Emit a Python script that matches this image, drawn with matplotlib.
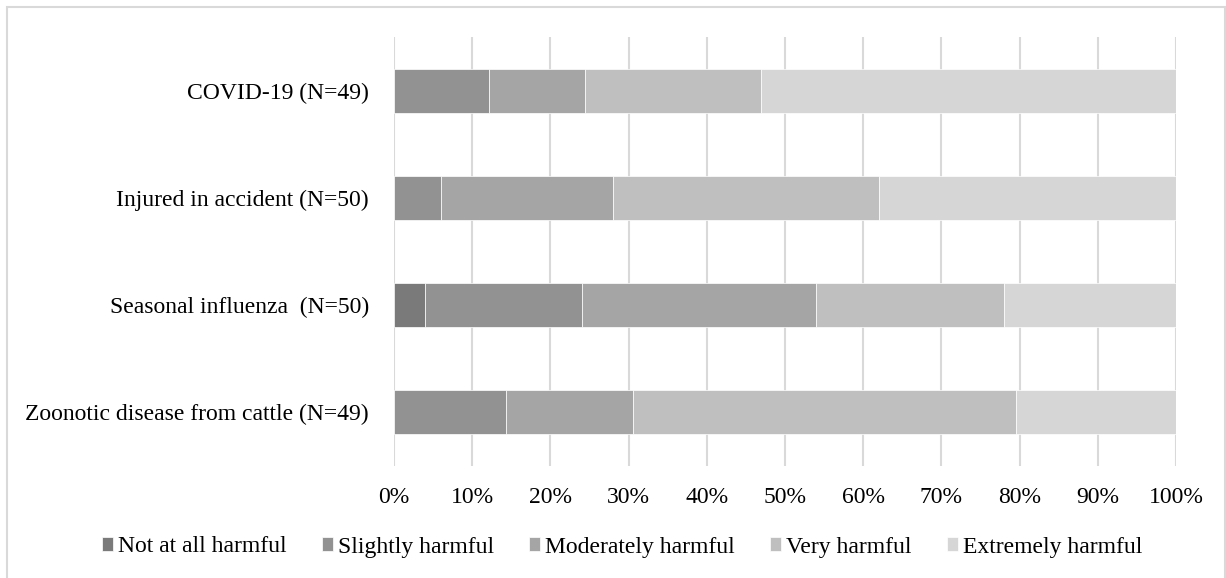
import matplotlib
matplotlib.use('Agg')
import matplotlib.pyplot as plt
from matplotlib.patches import Rectangle
import numpy as np

plt.rcParams['font.family'] = ['Liberation Serif', 'DejaVu Serif']

categories = ['Zoonotic disease from cattle (N=49)', 'Seasonal influenza  (N=50)',
              'Injured in accident (N=50)', 'COVID-19 (N=49)']
series_names = ['Not at all harmful', 'Slightly harmful', 'Moderately harmful',
                'Very harmful', 'Extremely harmful']
# percent of respondents, rows follow categories (bottom to top)
not_at_all = [0.0, 4.0, 0.0, 0.0]
slightly = [14.3, 20.0, 6.0, 12.2]
moderately = [16.3, 30.0, 22.0, 12.2]
very = [49.0, 24.0, 34.0, 22.5]
extremely = [20.4, 22.0, 38.0, 53.1]
colors = ['#7a7a7a', '#929292', '#a5a5a5', '#bfbfbf', '#d6d6d6']

fig = plt.figure(figsize=(12.26, 5.78), dpi=100)
ax = fig.add_axes([394 / 1226, 1 - 466 / 578, (1176 - 394) / 1226, (466 - 37) / 578])

y = np.arange(len(categories))
left = np.zeros(len(categories))
for name, vals, c in zip(series_names, [not_at_all, slightly, moderately, very, extremely], colors):
    ax.barh(y, vals, left=left, height=0.41, color=c, edgecolor='white', linewidth=0.5,
            label=name, zorder=3)
    left += np.array(vals)

ax.set_xlim(0, 100)
ax.set_ylim(-0.5, len(categories) - 0.5)
ax.set_xticks(np.arange(0, 101, 10))
ax.set_xticklabels([f'{v}%' for v in range(0, 101, 10)], fontsize=17)
ax.set_yticks(y)
ax.set_yticklabels(categories, fontsize=17)
ax.tick_params(length=0, pad=18)
ax.tick_params(axis='x', pad=15)
ax.grid(axis='x', color='#d9d9d9', linewidth=1.5, zorder=0)
for s in ax.spines.values():
    s.set_visible(False)

ax.legend(loc='center', bbox_to_anchor=(622 / 1226, 1 - 547 / 578), bbox_transform=fig.transFigure,
          ncol=5, frameon=False, fontsize=17, handlelength=0.47, handleheight=0.5,
          handletextpad=0.22, columnspacing=1.48)

# light outer chart border (no bottom edge visible in the original)
fig.patches.append(Rectangle((7 / 1226, -0.02), 1 - 8 / 1226, 1 - 7 / 578 + 0.02,
                             transform=fig.transFigure, fill=False, edgecolor='#d9d9d9',
                             linewidth=1.5))

fig.savefig('out.png', dpi=100)
